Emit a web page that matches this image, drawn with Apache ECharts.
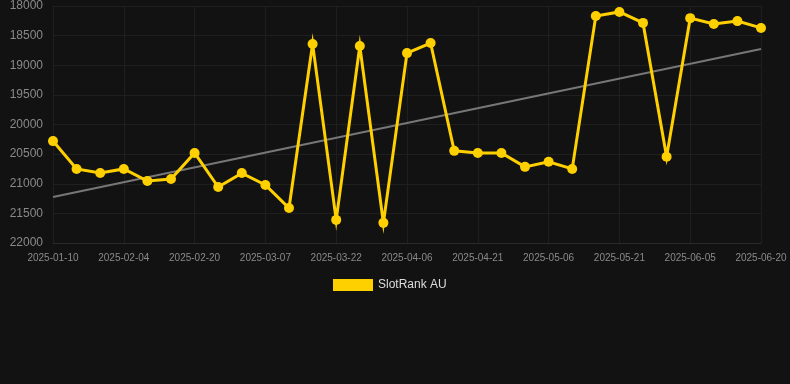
<!DOCTYPE html>
<html>
<head>
<meta charset="utf-8">
<script src="https://cdn.jsdelivr.net/npm/echarts@6/dist/echarts.min.js"></script>
<style>
  html, body { margin: 0; padding: 0; background: #121212; }
  #chart { width: 790px; height: 384px; }
</style>
</head>
<body>
<div id="chart"></div>
<script>
var dates = [
    '2025-01-10', '2025-01-18', '2025-01-27', '2025-02-04', '2025-02-09', '2025-02-15',
    '2025-02-20', '2025-02-25', '2025-03-02', '2025-03-07', '2025-03-12', '2025-03-17',
    '2025-03-22', '2025-03-27', '2025-04-01', '2025-04-06', '2025-04-11', '2025-04-16',
    '2025-04-21', '2025-04-26', '2025-05-01', '2025-05-06', '2025-05-11', '2025-05-16',
    '2025-05-21', '2025-05-26', '2025-05-31', '2025-06-05', '2025-06-10', '2025-06-15',
    '2025-06-20'
];
var rankValues = [
    20280, 20750, 20820, 20750, 20955, 20920,
    20480, 21055, 20820, 21020, 21410, 18640,
    21610, 18675, 21660, 18795, 18625, 20445,
    20480, 20480, 20715, 20630, 20750, 18170,
    18100, 18285, 20545, 18205, 18305, 18255,
    18370
];
// trend line end points (first and last category)
var trendValues = [21225].concat(new Array(29).fill(null), [18725]);

function drawRankChart() {
    var dom = document.getElementById('chart');
    var chart = echarts.init(dom);
    var option = {
        backgroundColor: '#121212',
        animation: false,
        grid: {
            left: 53,
            right: 29,
            top: 6,
            bottom: 141
        },
        legend: {
            data: ['SlotRank AU'],
            top: 279,
            left: 333,
            padding: 0,
            itemWidth: 40,
            itemHeight: 12,
            itemGap: 6,
            icon: 'rect',
            textStyle: {
                color: '#dddddd',
                fontSize: 12,
                fontFamily: 'Liberation Sans, Arial, sans-serif'
            }
        },
        xAxis: {
            type: 'category',
            data: dates,
            boundaryGap: false,
            axisLine: { show: true, lineStyle: { color: '#2a2a2a' } },
            axisTick: { show: false },
            axisLabel: {
                interval: 2,
                color: '#8a8a8a',
                fontSize: 10,
                margin: 10,
                fontFamily: 'Liberation Sans, Arial, sans-serif'
            },
            splitLine: { show: true, interval: 2, lineStyle: { color: '#1f1f1f' } }
        },
        yAxis: {
            type: 'value',
            inverse: true,
            min: 18000,
            max: 22000,
            interval: 500,
            axisLine: { show: false },
            axisTick: { show: false },
            axisLabel: {
                color: '#8a8a8a',
                fontSize: 12,
                margin: 10,
                fontFamily: 'Liberation Sans, Arial, sans-serif',
                formatter: function (v) { return String(v); }
            },
            splitLine: { lineStyle: { color: '#1f1f1f' } }
        },
        series: [
            {
                name: 'SlotRank AU',
                type: 'line',
                data: rankValues,
                color: '#ffd000',
                symbol: 'circle',
                symbolSize: 10,
                lineStyle: { width: 3, color: '#ffd000', join: 'miter' },
                itemStyle: { color: '#ffd000' },
                z: 3
            },
            {
                name: 'trend',
                type: 'line',
                data: trendValues,
                connectNulls: true,
                symbol: 'none',
                lineStyle: { width: 2, color: '#777777' },
                z: 2
            }
        ]
    };
    chart.setOption(option);
    window.addEventListener('resize', function () {
        chart.resize();
    });
}
drawRankChart();
</script>
</body>
</html>
